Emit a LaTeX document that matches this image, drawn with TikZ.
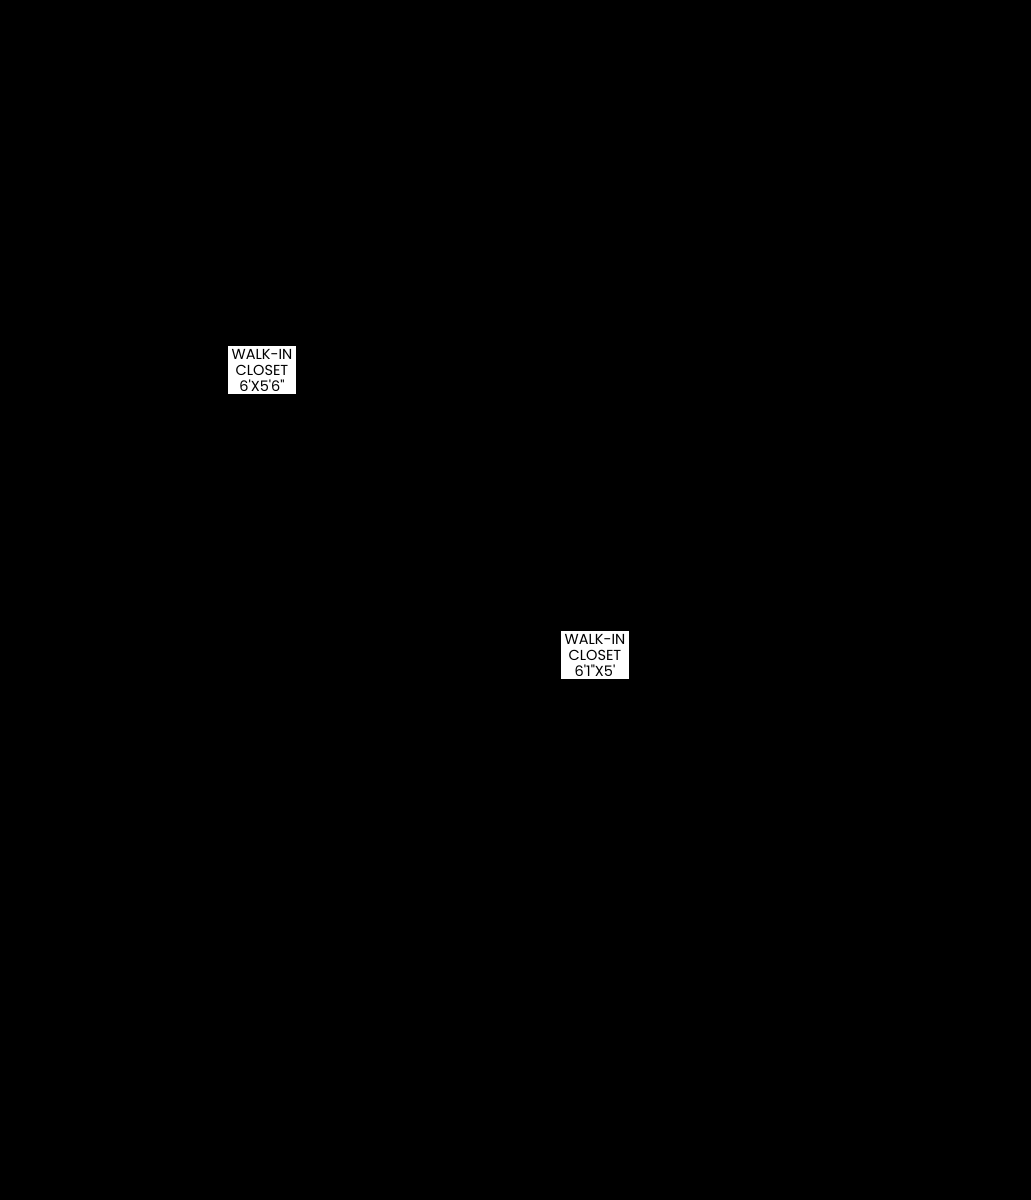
\documentclass[tikz,border=0pt]{standalone}
\usepackage{fontspec}
\setmainfont{Poppins}
\begin{document}
\begin{tikzpicture}[x=1pt,y=1pt,
  label box/.style={fill=white, draw=none, inner sep=0pt, minimum width=68pt, minimum height=48pt,
    align=center, font=\fontsize{14.5}{16}\selectfont, text=black}]
\fill[black] (0,0) rectangle (1031,1200);
\useasboundingbox (0,0) rectangle (1031,1200);
\node[label box] (closetA) at (262,830) {WALK-IN\\CLOSET\\6\textquotesingle X5\textquotesingle 6\textquotedbl};
\node[label box] (closetB) at (595,545) {WALK-IN\\CLOSET\\6\textquotesingle 1\textquotedbl X5\textquotesingle};
\end{tikzpicture}
\end{document}
